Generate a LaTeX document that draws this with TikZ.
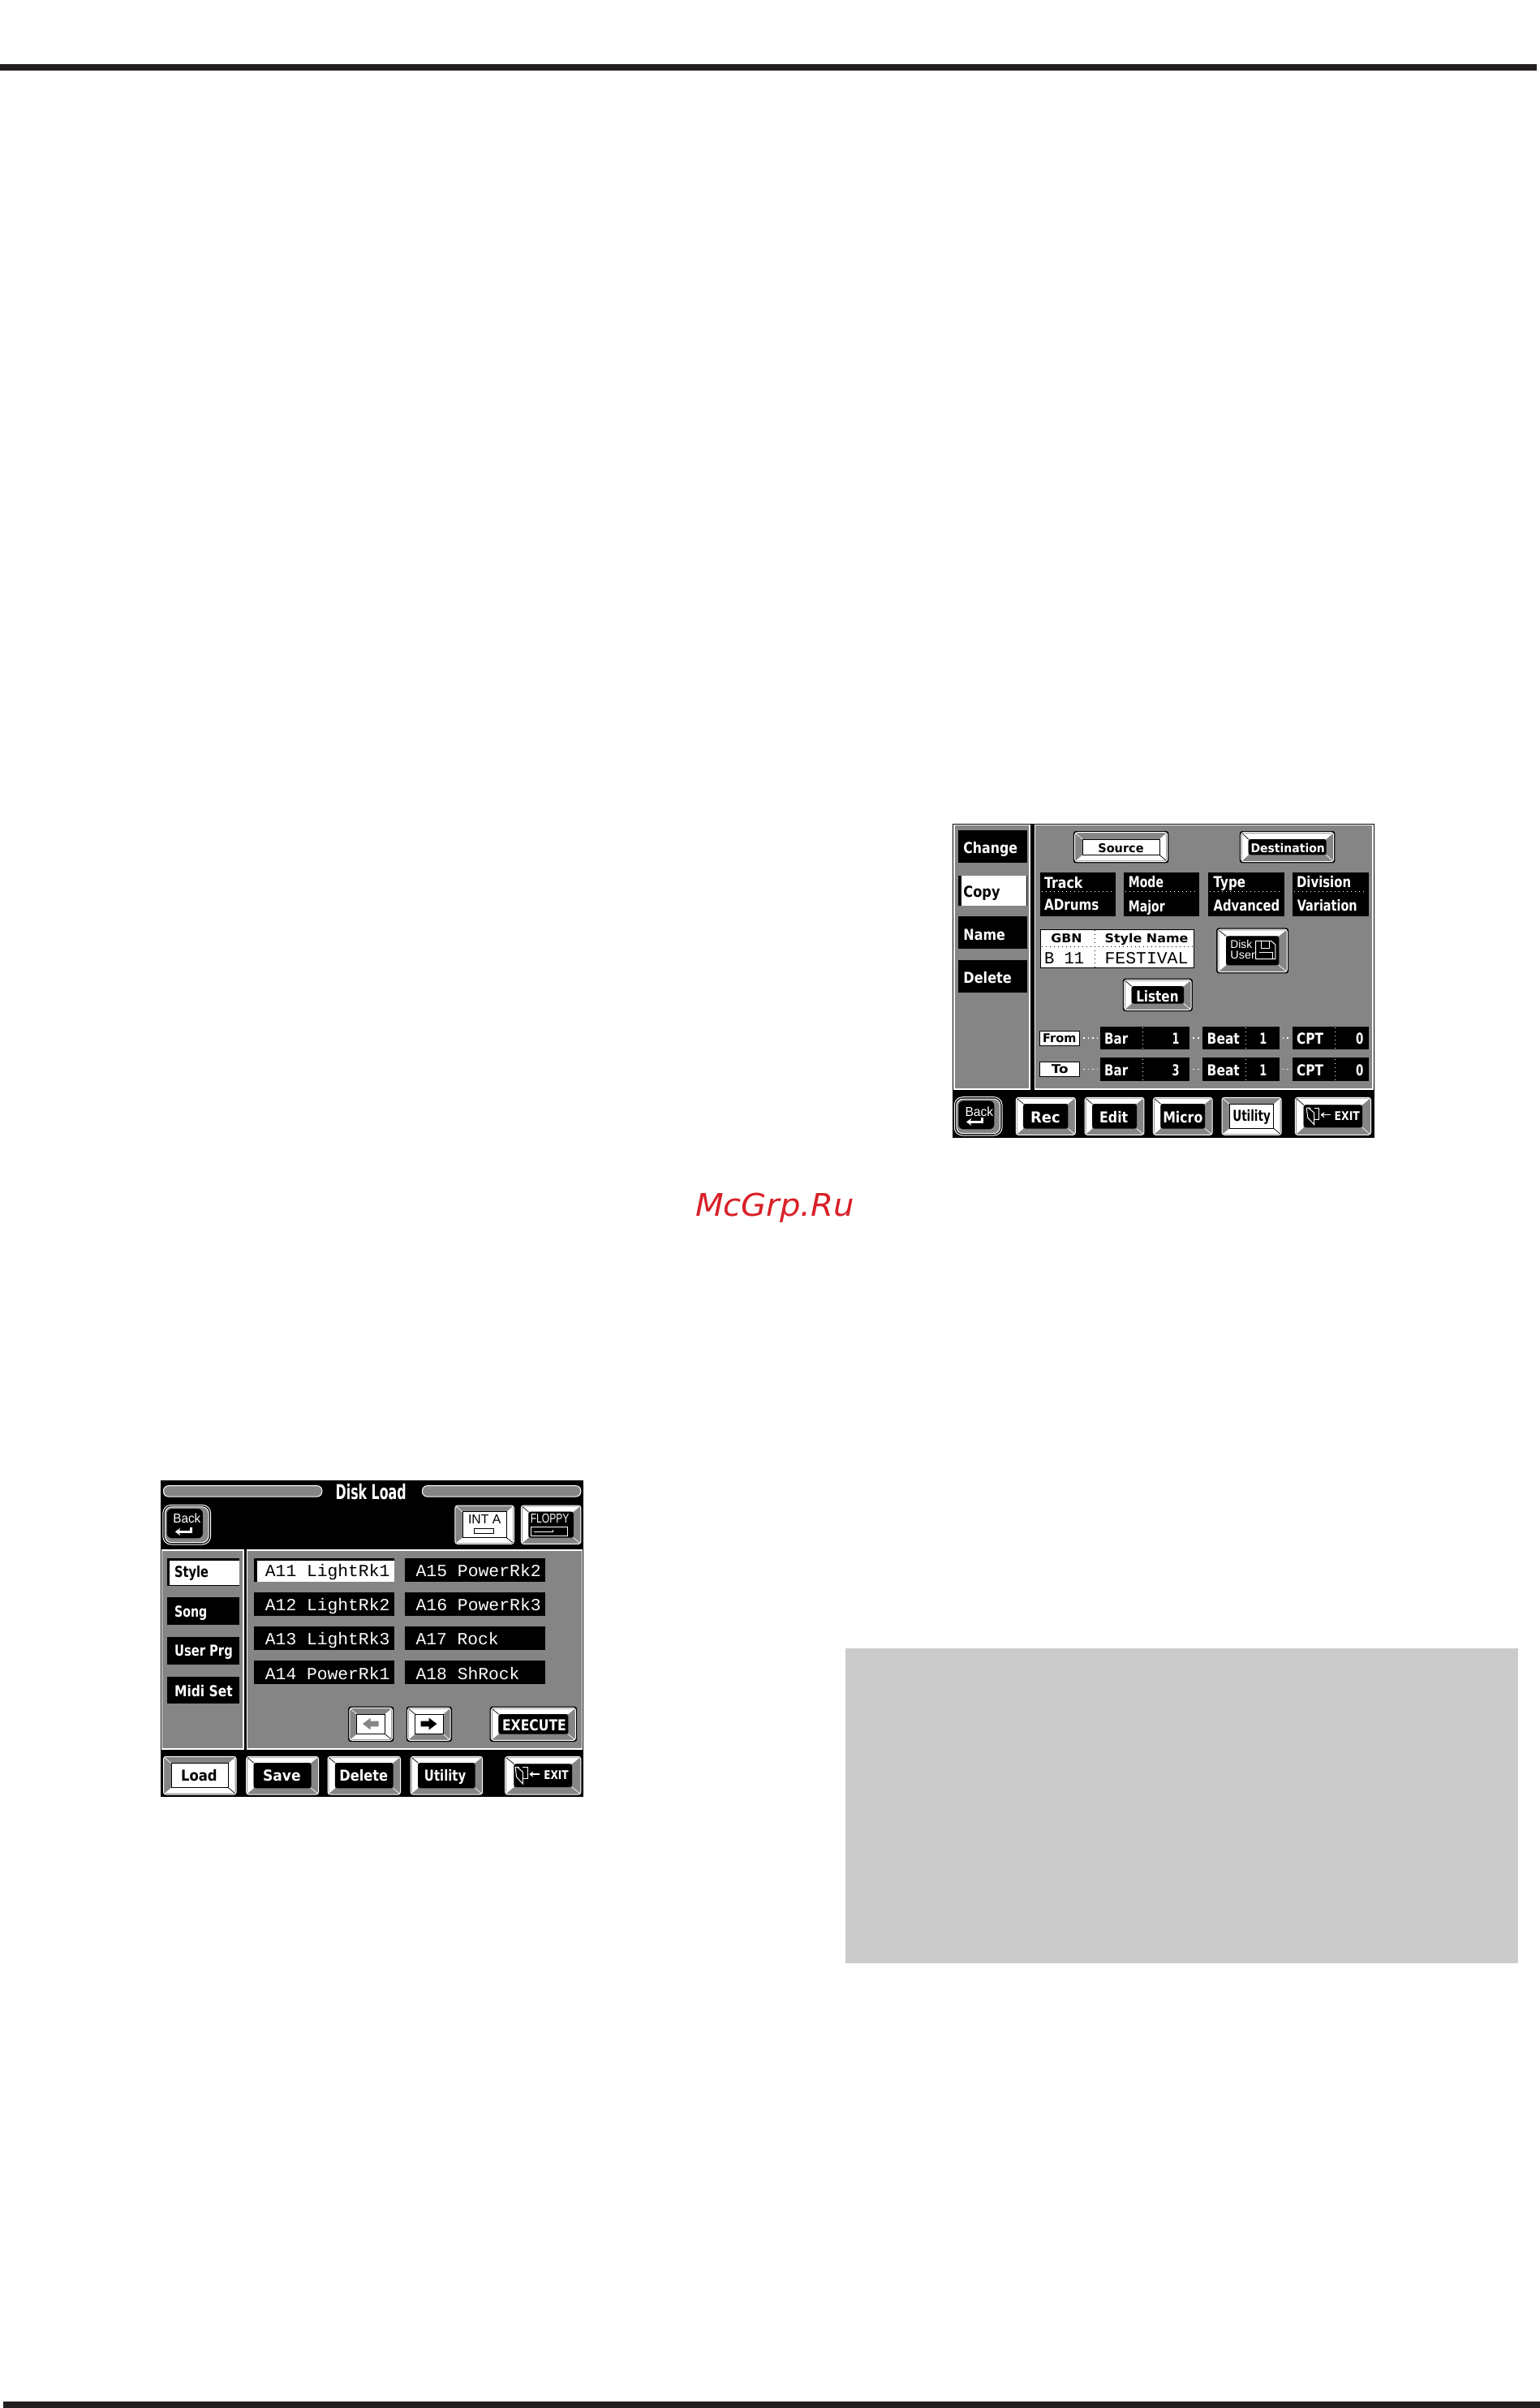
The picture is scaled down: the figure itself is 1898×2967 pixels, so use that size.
\documentclass[tikz,border=0pt]{standalone}
\usepackage{fontspec}
\usepackage{graphicx}
\usetikzlibrary{arrows.meta}
\setmainfont{Liberation Sans}
\newfontfamily\monof{Liberation Mono}
\newfontfamily\wmf{DejaVu Sans}
\definecolor{dith}{HTML}{858585}
\definecolor{rulec}{HTML}{231F20}
\definecolor{wmred}{HTML}{D92027}
\definecolor{panelg}{HTML}{CBCBCB}
\def\zx{0.1792}
\def\zy{0.16667}
\newcommand\fa{\wmf\fontsize{9.3}{10}\selectfont\bfseries}
\newcommand\fs{\wmf\fontsize{7.4}{8}\selectfont\bfseries}
\newcommand\fr{\fontsize{8}{9}\selectfont}
\newcommand\fd{\fontsize{7}{8}\selectfont}
\newcommand\ft{\wmf\fontsize{12.6}{13}\selectfont\bfseries}
\newcommand\fm{\monof\fontsize{10.5}{11}\selectfont}
\tikzset{
  boxn/.style={inner sep=0pt,outer sep=0pt,fill=black},
  lbl/.style={inner sep=0pt,outer sep=0pt,anchor=base},
  panel/.style={fill=dith,draw=white,line width=.7pt},
  pill/.style={fill=dith,draw=white,line width=.5pt,rounded corners=3pt},
  whitebox/.style={fill=white,draw=black,line width=.5pt},
  conn/.style={draw=white,line width=.9pt,dotted,shorten <=2pt,shorten >=1.5pt},
  dotw/.style={draw=white,line width=.5pt,dotted},
  dotk/.style={draw=black,line width=.5pt,dotted},
  icon/.style={draw=white,line width=.5pt},
}
% [opts]{name}{x1}{y1}{x2}{y2}
\newcommand\blk[6][]{\pgfmathsetmacro\bw{(#5-(#3))*\zx}\pgfmathsetmacro\bh{(#6-(#4))*\zy}%
  \node[boxn,minimum width=\bw pt,minimum height=\bh pt,#1] (#2) at ({(#3+#5)/2},{(#4+#6)/2}) {};}
% [colour]{name}{font}{left}{right}{baseline}{text}
\newcommand\lab[7][white]{\pgfmathsetmacro\lw{(#5-#4)*\zx}%
  \node[lbl,text=#1] (#2) at ({(#4+#5)/2},#6) {\resizebox{\lw pt}{\height}{#3\ignorespaces#7}};}
% raised bevel: [inner opts]{name}{x1}{y1}{x2}{y2}{dx}{dy}
\newcommand\bevup[8][]{%
  \fill[black,rounded corners=1.5pt] (#3,#4) rectangle (#5,#6);
  \draw[white,line width=.5pt,fill=dith,rounded corners=1.5pt] ({#3+5},{#4+5}) rectangle ({#5-5},{#6-5});
  \fill[white] ({#3+9},{#4+9}) -- ({#5-9},{#4+9}) -- ({#5-#7},{#4+#8}) -- ({#3+#7},{#4+#8}) -- ({#3+#7},{#6-#8}) -- ({#3+9},{#6-9}) -- cycle;
  \draw[black,line width=.35pt] ({#3+9},{#4+9}) -- ({#3+#7},{#4+#8});
  \draw[white,line width=.35pt] ({#5-9},{#6-9}) -- ({#5-#7},{#6-#8});
  \blk[rounded corners=1.5pt,#1]{#2}{#3+#7}{#4+#8}{#5-#7}{#6-#8}}
% pressed bevel
\newcommand\bevdn[8][]{%
  \fill[black,rounded corners=1.5pt] (#3,#4) rectangle (#5,#6);
  \draw[white,line width=.5pt,fill=dith,rounded corners=1.5pt] ({#3+5},{#4+5}) rectangle ({#5-5},{#6-5});
  \fill[white] ({#5-9},{#6-9}) -- ({#5-9},{#4+9}) -- ({#5-#7},{#4+#8}) -- ({#5-#7},{#6-#8}) -- ({#3+#7},{#6-#8}) -- ({#3+9},{#6-9}) -- cycle;
  \draw[black,line width=.35pt] ({#5-9},{#6-9}) -- ({#5-#7},{#6-#8});
  \draw[white,line width=.35pt] ({#3+9},{#4+9}) -- ({#3+#7},{#4+#8});
  \blk[fill=white,draw=black,line width=.4pt,#1]{#2}{#3+#7}{#4+#8}{#5-#7}{#6-#8}}
% back button
\newcommand\backbtn[5]{%
  \draw[white,line width=.5pt,rounded corners=5pt] ({#2+3},{#3+3}) rectangle ({#4-3},{#5-3});
  \draw[white,line width=.5pt,fill=dith,rounded corners=4pt] ({#2+10},{#3+10}) rectangle ({#4-10},{#5-10});
  \blk[rounded corners=3pt]{#1}{#2+17}{#3+17}{#4-30}{#5-26}}
% return arrow at left x, top y
\newcommand\retarrow[2]{%
  \draw[white,line width=1.2pt,-{Stealth[length=3.2pt,width=4.6pt]}] ({#1+55},{#2}) -- ({#1+55},{#2+17}) -- ({#1},{#2+17});}
% exit door at left x, top y
\newcommand\exitdoor[2]{%
  \draw[icon] ({#1+14},{#2+12}) -- ({#1},{#2+12}) -- ({#1+4},{#2+48}) -- ({#1+26},{#2+74}) -- ({#1+26},{#2+30}) -- ({#1+6},{#2+12});
  \draw[icon] ({#1+26},{#2+12}) -- ({#1+42},{#2+12}) -- ({#1+42},{#2+54}) -- ({#1+26},{#2+54});
  \draw[white,line width=.8pt,-{Stealth[length=2.4pt,width=3.6pt]}] ({#1+82},{#2+38}) -- ({#1+48},{#2+38});}
\begin{document}
\begin{tikzpicture}[x=0.5pt,y=-0.5pt]
\useasboundingbox (0,0) rectangle (1898,2967);
\fill[white] (0,0) rectangle (1898,2967);
\fill[rulec] (0,79) rectangle (1894,87);
\fill[rulec] (4,2959) rectangle (1898,2967);
\fill[panelg] (1042,2031) rectangle (1871,2419);
\node[inner sep=0pt,anchor=base,text=wmred] (wm) at (955,1498) {\resizebox{98pt}{\height}{\wmf\itshape\fontsize{19.2}{20}\selectfont McGrp.Ru}};

% ===== Copy screen =====
\begin{scope}[shift={(1158,1000)},x=0.1792pt,y=-0.16667pt]
\fill[black] (45,45) rectangle (1495,1205);
\blk[panel]{lpanel}{50}{50}{310}{1026}
\blk[panel]{rpanel}{327}{50}{1490}{1026}
% tabs
\blk{tchange}{65}{68}{300}{188}
\blk{tcopy}{65}{238}{300}{348}
\blk[fill=white]{tcopyw}{76}{238}{298}{348}
\blk{tname}{65}{388}{300}{508}
\blk{tdelete}{65}{548}{300}{668}
\lab{lchange}{\fa}{82}{268}{155}{Change}
\lab[black]{lcopy}{\fa}{82}{208}{315}{Copy}
\lab{lname}{\fa}{82}{226}{475}{Name}
\lab{ldelete}{\fa}{82}{248}{633}{Delete}
% source, destination
\bevdn{bsource}{460}{72}{788}{190}{32}{30}
\lab[black]{lsource}{\fs}{545}{702}{150}{Source}
\bevup{bdest}{1032}{72}{1360}{190}{30}{30}
\lab{ldest}{\fs}{1070}{1325}{150}{Destination}
% info blocks
\blk{btrack}{345}{225}{605}{388}
\blk{bmode}{633}{225}{893}{388}
\blk{btype}{923}{225}{1185}{388}
\blk{bdiv}{1213}{225}{1477}{388}
\foreach \a/\b in {352/600,640/886,930/1175,1220/1465} \draw[dotw] (\a,294) -- (\b,294);
\lab{ltrack}{\fa}{360}{492}{282}{Track}
\lab{ladrums}{\fa}{360}{548}{365}{ADrums}
\lab{lmode}{\fa}{650}{770}{280}{Mode}
\lab{lmajor}{\fa}{650}{775}{370}{Major}
\lab{ltype}{\fa}{942}{1052}{280}{Type}
\lab{ladv}{\fa}{942}{1170}{368}{Advanced}
\lab{ldivi}{\fa}{1228}{1415}{280}{Division}
\lab{lvar}{\fa}{1230}{1436}{368}{Variation}
% table
\blk[fill=white,draw=black,line width=.4pt]{tbl}{347}{435}{875}{577}
\draw[dotk] (352,500) -- (870,500);
\draw[dotk] (535,437) -- (535,575);
\lab[black]{lgbn}{\fs}{383}{490}{485}{GBN}
\lab[black]{lsn}{\fs}{568}{855}{485}{Style Name}
\lab[black]{lb11}{\fm}{360}{497}{562}{B 11}
\lab[black]{lfest}{\fm}{568}{855}{562}{FESTIVAL}
% disk user
\bevup{bdisk}{952}{430}{1200}{598}{33}{30}
\lab{ldisk}{\fd}{1000}{1075}{506}{Disk}
\lab{luser}{\fd}{1000}{1085}{545}{User}
\draw[icon] (1087,478) -- (1140,478) -- (1155,492) -- (1155,545) -- (1087,545) -- cycle;
\draw[icon] (1105,478) -- (1105,505) -- (1135,505) -- (1135,478);
\draw[icon] (1100,520) -- (1145,520) -- (1145,545);
% listen
\bevup{blisten}{630}{617}{870}{738}{30}{28}
\lab{llisten}{\fa}{676}{822}{703}{Listen}
% from/to rows
\blk[whitebox]{bfrom}{345}{810}{482}{865}
\blk[whitebox]{bto}{345}{925}{482}{980}
\lab[black]{lfrom}{\fs}{355}{470}{853}{From}
\lab[black]{lto}{\fs}{385}{443}{968}{To}
\foreach \r/\t/\bb/\v in {a/795/860/1,b/910/975/3}{
  \pgfmathsetmacro\tb{\t+85}
  \blk{bar\r}{552}{\t}{860}{\tb}
  \blk{beat\r}{905}{\t}{1168}{\tb}
  \blk{cpt\r}{1213}{\t}{1477}{\tb}
  \draw[dotw] (698,\t+4) -- (698,\t+81);
  \draw[dotw] (1052,\t+4) -- (1052,\t+81);
  \draw[dotw] (1360,\t+4) -- (1360,\t+81);
  \lab{lbar\r}{\fa}{567}{648}{\bb}{Bar}
  \lab{lbarv\r}{\fa}{800}{825}{\bb}{\v}
  \lab{lbeat\r}{\fa}{920}{1032}{\bb}{Beat}
  \lab{lbeatv\r}{\fa}{1100}{1125}{\bb}{1}
  \lab{lcpt\r}{\fa}{1228}{1320}{\bb}{CPT}
  \lab{lcptv\r}{\fa}{1432}{1458}{\bb}{0}
  \draw[conn] (bar\r.east) -- (beat\r.west);
  \draw[conn] (beat\r.east) -- (cpt\r.west);
}
\draw[conn] (bfrom.east) -- (bara.west);
\draw[conn] (bto.east) -- (barb.west);
% bottom row
\backbtn{bback}{48}{1052}{218}{1200}
\lab{lback}{\fr}{88}{185}{1125}{Back}
\retarrow{92}{1130}
\bevup{brec}{258}{1052}{472}{1200}{30}{28}
\lab{lrec}{\fa}{313}{415}{1150}{Rec}
\bevup{bedit}{495}{1052}{708}{1200}{30}{28}
\lab{ledit}{\fa}{550}{648}{1150}{Edit}
\bevup{bmicro}{730}{1052}{943}{1200}{30}{28}
\lab{lmicro}{\fa}{768}{905}{1150}{Micro}
\bevdn{butil}{966}{1052}{1180}{1200}{32}{30}
\lab[black]{lutil}{\fa}{1008}{1138}{1145}{Utility}
\bevup{bexit}{1218}{1052}{1488}{1200}{34}{32}
\exitdoor{1262}{1083}
\lab{lexit}{\fs}{1358}{1445}{1142}{EXIT}
\end{scope}

% ===== Disk Load screen =====
\begin{scope}[shift={(180,1810)},x=0.1792pt,y=-0.16667pt]
\fill[black] (50,42) rectangle (1505,1212);
\blk[pill]{pilll}{60}{62}{605}{102}
\blk[pill]{pillr}{950}{62}{1495}{102}
\lab{ltitle}{\ft}{652}{895}{112}{Disk Load}
\backbtn{cback}{55}{130}{225}{282}
\lab{clback}{\fr}{93}{188}{200}{Back}
\retarrow{100}{215}
\bevdn{cint}{1058}{130}{1270}{282}{30}{28}
\lab[black]{clint}{\fr}{1108}{1220}{203}{INT A}
\draw[black,line width=.5pt] (1130,220) rectangle (1196,238);
\bevup{cflop}{1285}{130}{1500}{282}{30}{28}
\lab{clflop}{\fr}{1322}{1455}{200}{FLOPPY}
\draw[icon] (1325,215) rectangle (1450,248);
\draw[icon] (1335,232) -- (1400,232) -- (1400,225);
\blk[panel]{cleft}{55}{300}{335}{1035}
\blk[panel]{cright}{347}{300}{1500}{1035}
% tabs
\blk{tstyle}{72}{330}{322}{432}
\blk[fill=white]{tstylew}{81}{338}{322}{430}
\blk{tsong}{72}{475}{322}{577}
\blk{tuser}{72}{620}{322}{722}
\blk{tmidi}{72}{768}{322}{868}
\lab[black]{lstyle}{\fa}{98}{215}{400}{Style}
\lab{lsong}{\fa}{98}{210}{547}{Song}
\lab{luprg}{\fa}{98}{298}{692}{User Prg}
\lab{lmidi}{\fa}{98}{298}{840}{Midi Set}
% list
\blk{ia}{372}{330}{855}{417}
\blk[fill=white]{iaw}{381}{338}{855}{417}
\blk{ib}{372}{455}{855}{543}
\blk{ic}{372}{582}{855}{670}
\blk{id}{372}{708}{855}{796}
\blk{ie}{890}{330}{1373}{417}
\blk{if}{890}{455}{1373}{543}
\blk{ig}{890}{582}{1373}{670}
\blk{ih}{890}{708}{1373}{796}
\lab[black]{la}{\fm}{410}{838}{397}{A11 LightRk1}
\lab{lb}{\fm}{410}{838}{523}{A12 LightRk2}
\lab{lc}{\fm}{410}{838}{650}{A13 LightRk3}
\lab{ld}{\fm}{410}{838}{777}{A14 PowerRk1}
\lab{le}{\fm}{928}{1358}{397}{A15 PowerRk2}
\lab{lf}{\fm}{928}{1358}{523}{A16 PowerRk3}
\lab{lg}{\fm}{928}{1213}{650}{A17 Rock}
\lab{lh}{\fm}{928}{1285}{777}{A18 ShRock}
% arrows, execute
\bevdn{carl}{695}{878}{852}{1008}{30}{28}
\fill[dith] (745,942) -- (772,920) -- (772,932) -- (800,932) -- (800,952) -- (772,952) -- (772,964) -- cycle;
\bevup[fill=white,draw=black,line width=.4pt,rounded corners=0pt]{carr}{895}{878}{1052}{1008}{30}{28}
\fill[black] (1000,942) -- (973,920) -- (973,932) -- (945,932) -- (945,952) -- (973,952) -- (973,964) -- cycle;
\bevup{cexec}{1182}{878}{1482}{1008}{30}{28}
\lab{lexec}{\fa}{1225}{1445}{967}{EXECUTE}
% bottom row
\bevdn{cload}{55}{1058}{315}{1208}{32}{30}
\lab[black]{lload}{\fa}{120}{245}{1152}{Load}
\bevup{csave}{340}{1058}{598}{1208}{30}{28}
\lab{lsave}{\fa}{402}{532}{1152}{Save}
\bevup{cdel}{620}{1058}{880}{1208}{30}{28}
\lab{ldel}{\fa}{665}{832}{1152}{Delete}
\bevup{cutil}{905}{1058}{1162}{1208}{30}{28}
\lab{lcutil}{\fa}{957}{1100}{1152}{Utility}
\bevup{cexit}{1230}{1058}{1500}{1208}{35}{32}
\exitdoor{1270}{1090}
\lab{lcexit}{\fs}{1368}{1453}{1147}{EXIT}
\end{scope}
\end{tikzpicture}
\end{document}
